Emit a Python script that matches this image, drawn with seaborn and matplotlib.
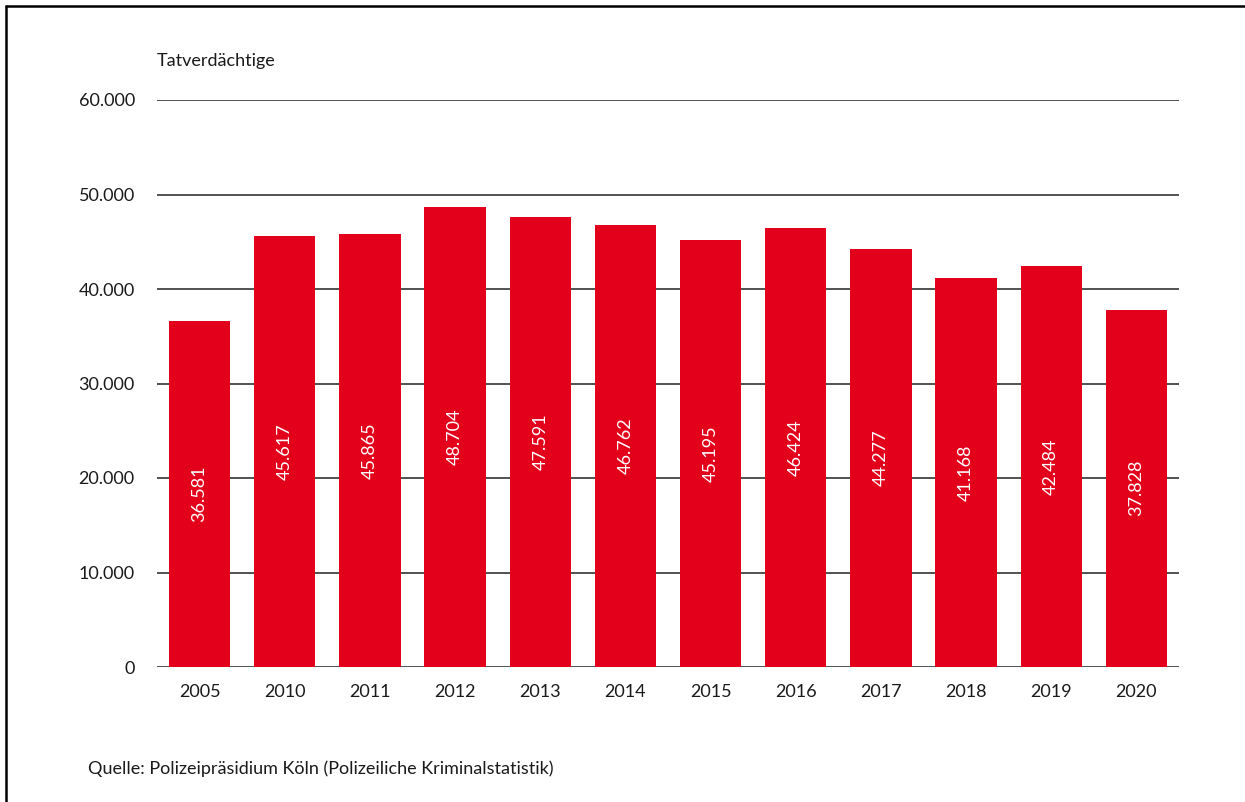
import matplotlib
matplotlib.use("Agg")
import matplotlib.pyplot as plt
from matplotlib.lines import Line2D
import seaborn as sns
import pandas as pd

years = ["2005", "2010", "2011", "2012", "2013", "2014", "2015", "2016", "2017", "2018", "2019", "2020"]
values = [36581, 45617, 45865, 48704, 47591, 46762, 45195, 46424, 44277, 41168, 42484, 37828]
yticks = [0, 10000, 20000, 30000, 40000, 50000, 60000]
ytick_labels = ["0", "10.000", "20.000", "30.000", "40.000", "50.000", "60.000"]

sns.set_theme(style="white")
plt.rcParams["font.family"] = ["Lato", "DejaVu Sans"]

df = pd.DataFrame({"Jahr": years, "Tatverdächtige": values})

fig = plt.figure(figsize=(12.45, 8.02), dpi=100)
ax = fig.add_axes([157 / 1245, 1 - 667 / 802, (1179 - 157) / 1245, (667 - 100) / 802])

sns.barplot(data=df, x="Jahr", y="Tatverdächtige", color="#E2001A", saturation=1,
            width=0.72, linewidth=0, ax=ax, zorder=3)

ax.set_ylim(0, 60000)
ax.set_xlim(-0.5, len(years) - 0.5)
ax.set_yticks(yticks)
ax.set_yticklabels(ytick_labels)
ax.grid(axis="y", color="#222222", linewidth=1.1, zorder=0)
ax.set_axisbelow(True)
for s in ax.spines.values():
    s.set_visible(False)
ax.tick_params(axis="both", length=0, labelsize=13, colors="#1a1a1a")
ax.tick_params(axis="y", pad=16)
ax.tick_params(axis="x", pad=12)
ax.set_xlabel("")
ax.set_ylabel("")

for p, v in zip(ax.patches, values):
    lbl = f"{v:,}".replace(",", ".")
    ax.text(p.get_x() + p.get_width() / 2, v / 2, lbl, rotation=90, color="white",
            ha="center", va="center", fontsize=13, zorder=4)

fig.text(157 / 1245, 1 - 61 / 802, "Tatverdächtige", fontsize=13, color="#1a1a1a",
         ha="left", va="center")
fig.text(88 / 1245, 1 - 769 / 802, "Quelle: Polizeipräsidium Köln (Polizeiliche Kriminalstatistik)",
         fontsize=13, color="#1a1a1a", ha="left", va="center")

# frame lines (left and top)
fig.add_artist(Line2D([6 / 1245, 6 / 1245], [0, 1 - 6 / 802], color="black", linewidth=1.8,
                      transform=fig.transFigure))
fig.add_artist(Line2D([6 / 1245, 1], [1 - 6 / 802, 1 - 6 / 802], color="black", linewidth=1.8,
                      transform=fig.transFigure))

fig.savefig("out.png", dpi=100)
